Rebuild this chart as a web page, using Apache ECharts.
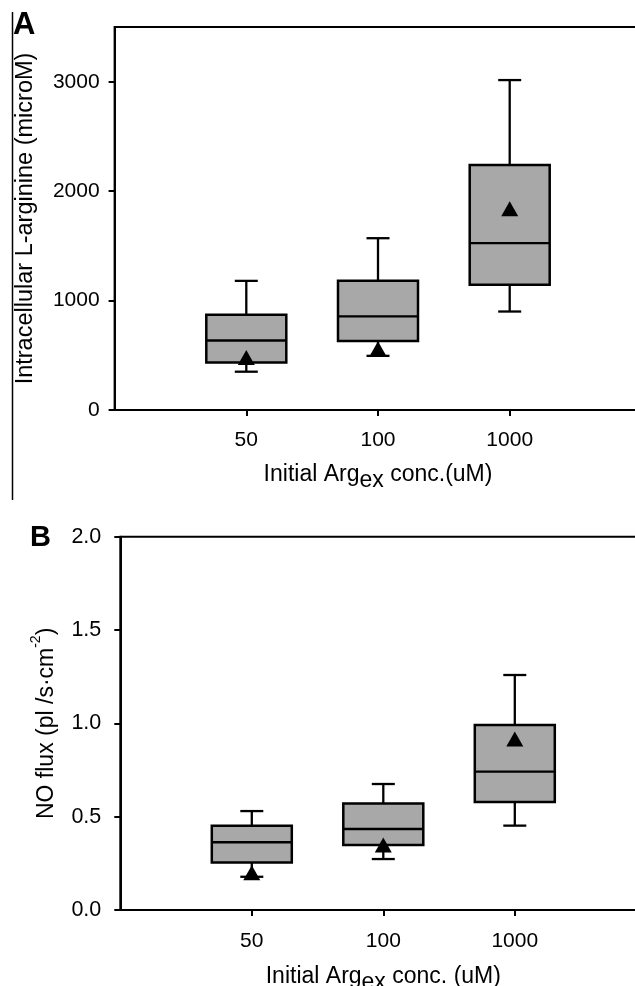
<!DOCTYPE html>
<html>
<head>
<meta charset="utf-8">
<title>Arginine / NO flux</title>
<script src="https://cdn.jsdelivr.net/npm/echarts@6/dist/echarts.min.js"></script>
<style>
  html, body { margin: 0; padding: 0; background: #fff; }
  #chart { width: 635px; height: 986px; }
</style>
</head>
<body>
<div id="chart"></div>
<script>
  // categories (initial Arg_ex concentration, uM)
  const categories = ['50', '100', '1000']

  // panel A: intracellular L-arginine (microM)
  const argMin = [350, 495, 900]
  const argQ1 = [435, 630, 1145]
  const argMedian = [635, 855, 1525]
  const argQ3 = [870, 1180, 2240]
  const argMax = [1180, 1570, 3015]
  const argMean = [480, 560, 1840]
  const argTicks = [0, 1000, 2000, 3000]

  // panel B: NO flux (pl/s·cm-2)
  const noMin = [0.178, 0.273, 0.452]
  const noQ1 = [0.255, 0.348, 0.578]
  const noMedian = [0.363, 0.434, 0.741]
  const noQ3 = [0.452, 0.571, 0.991]
  const noMax = [0.53, 0.675, 1.259]
  const noMean = [0.2, 0.348, 0.916]
  const noTicks = [0, 0.5, 1.0, 1.5, 2.0]

  const FONT = '"Liberation Sans", Arial, sans-serif'
  const BOX_W = 80
  const CAP_W = 23
  const catPos = categories.map((c, i) => i + 1)

  const boxData = (lo, q1, md, q3, hi) =>
    catPos.map((x, i) => [x, lo[i], q1[i], md[i], q3[i], hi[i]])

  const renderBox = (params, api) => {
    const x = api.value(0)
    const lo = api.coord([x, api.value(1)])
    const q1 = api.coord([x, api.value(2)])
    const md = api.coord([x, api.value(3)])
    const q3 = api.coord([x, api.value(4)])
    const hi = api.coord([x, api.value(5)])
    const cx = lo[0]
    const line = { stroke: '#000', lineWidth: 2.3 }
    const seg = (x1, y1, x2, y2) => ({ type: 'line', shape: { x1, y1, x2, y2 }, style: line })
    return {
      type: 'group',
      children: [
        seg(cx, hi[1], cx, q3[1]),
        seg(cx - CAP_W / 2, hi[1], cx + CAP_W / 2, hi[1]),
        seg(cx, q1[1], cx, lo[1]),
        seg(cx - CAP_W / 2, lo[1], cx + CAP_W / 2, lo[1]),
        {
          type: 'rect',
          shape: { x: cx - BOX_W / 2, y: q3[1], width: BOX_W, height: q1[1] - q3[1] },
          style: { fill: '#a8a8a8', stroke: '#000', lineWidth: 2.5 }
        },
        seg(cx - BOX_W / 2, md[1], cx + BOX_W / 2, md[1])
      ]
    }
  }

  const axisLine = { lineStyle: { color: '#000', width: 2 } }
  const axisTick = (vals) => ({ customValues: vals, length: 6, lineStyle: { color: '#000', width: 2 } })

  const xAxisCommon = (margin, gap) => ({
    type: 'value',
    min: 0,
    max: 4,
    axisLine,
    axisTick: axisTick(catPos),
    axisLabel: {
      customValues: catPos,
      formatter: (v) => categories[v - 1],
      color: '#000',
      fontSize: 21,
      lineHeight: 21,
      fontFamily: FONT,
      margin
    },
    splitLine: { show: false },
    nameLocation: 'middle',
    nameGap: gap,
    nameTextStyle: {
      color: '#000',
      fontFamily: FONT,
      rich: {
        t: { fontSize: 23, lineHeight: 23, verticalAlign: 'top', fontFamily: FONT, color: '#000' },
        sub: { fontSize: 23, lineHeight: 23, verticalAlign: 'top', padding: [6, 0, 0, 0], fontFamily: FONT, color: '#000' }
      }
    }
  })

  const chart = echarts.init(document.getElementById('chart'))

  const option = {
    backgroundColor: '#fff',
    animation: false,
    grid: [
      {
        left: 114.6, right: -6.4, top: 27, height: 383,
        outerBoundsMode: 'none', containLabel: false,
        show: true, borderColor: '#000', borderWidth: 2
      },
      {
        left: 120.3, right: -11.3, top: 536.7, height: 373.3,
        outerBoundsMode: 'none', containLabel: false,
        show: true, borderColor: '#000', borderWidth: 2
      }
    ],
    xAxis: [
      Object.assign(xAxisCommon(20, 53), { gridIndex: 0, name: '{t|Initial Arg}{sub|ex}{t| conc.(uM)}' }),
      Object.assign(xAxisCommon(21, 55), { gridIndex: 1, name: '{t|Initial Arg}{sub|ex}{t| conc. (uM)}' })
    ],
    yAxis: [
      {
        gridIndex: 0,
        type: 'value',
        min: 0,
        max: 3500,
        interval: 1000,
        axisLine,
        axisTick: axisTick(argTicks),
        axisLabel: {
          customValues: argTicks,
          formatter: (v) => String(v),
          color: '#000',
          fontSize: 21,
          fontFamily: FONT,
          margin: 15
        },
        splitLine: { show: false },
        name: 'Intracellular L-arginine (microM)',
        nameLocation: 'middle',
        nameGap: 77,
        nameTextStyle: { color: '#000', fontSize: 23.5, fontFamily: FONT }
      },
      {
        gridIndex: 1,
        type: 'value',
        min: 0,
        max: 2,
        interval: 0.5,
        axisLine,
        axisTick: axisTick(noTicks),
        axisLabel: {
          customValues: noTicks,
          formatter: (v) => v.toFixed(1),
          color: '#000',
          fontSize: 21.5,
          fontFamily: FONT,
          margin: 19
        },
        splitLine: { show: false },
        name: '{t|NO flux (pl /s·cm}{sup|-2}{t|)}',
        nameLocation: 'middle',
        nameGap: 62,
        nameTextStyle: {
          color: '#000',
          fontFamily: FONT,
          rich: {
            t: { fontSize: 23, lineHeight: 23, verticalAlign: 'bottom', fontFamily: FONT, color: '#000' },
            sup: { fontSize: 14, lineHeight: 14, verticalAlign: 'bottom', padding: [0, 0, 15, 0], fontFamily: FONT, color: '#000' }
          }
        }
      }
    ],
    graphic: [
      { type: 'line', shape: { x1: 12.5, y1: 12, x2: 12.5, y2: 500 }, style: { stroke: '#000', lineWidth: 1.5 } },
      { type: 'text', x: 13, y: 25, style: { text: 'A', font: 'bold 31px ' + FONT, fill: '#000', verticalAlign: 'middle' } },
      { type: 'text', x: 30, y: 538, style: { text: 'B', font: 'bold 29px ' + FONT, fill: '#000', verticalAlign: 'middle' } }
    ],
    series: [
      {
        type: 'custom',
        xAxisIndex: 0,
        yAxisIndex: 0,
        renderItem: renderBox,
        data: boxData(argMin, argQ1, argMedian, argQ3, argMax),
        z: 2
      },
      {
        type: 'scatter',
        xAxisIndex: 0,
        yAxisIndex: 0,
        symbol: 'triangle',
        symbolSize: [17, 15],
        itemStyle: { color: '#000', opacity: 1 },
        data: catPos.map((x, i) => [x, argMean[i]]),
        z: 3
      },
      {
        type: 'custom',
        xAxisIndex: 1,
        yAxisIndex: 1,
        renderItem: renderBox,
        data: boxData(noMin, noQ1, noMedian, noQ3, noMax),
        z: 2
      },
      {
        type: 'scatter',
        xAxisIndex: 1,
        yAxisIndex: 1,
        symbol: 'triangle',
        symbolSize: [17, 15],
        itemStyle: { color: '#000', opacity: 1 },
        data: catPos.map((x, i) => [x, noMean[i]]),
        z: 3
      }
    ]
  }

  chart.setOption(option)
  window.addEventListener('resize', () => chart.resize())
</script>
</body>
</html>
